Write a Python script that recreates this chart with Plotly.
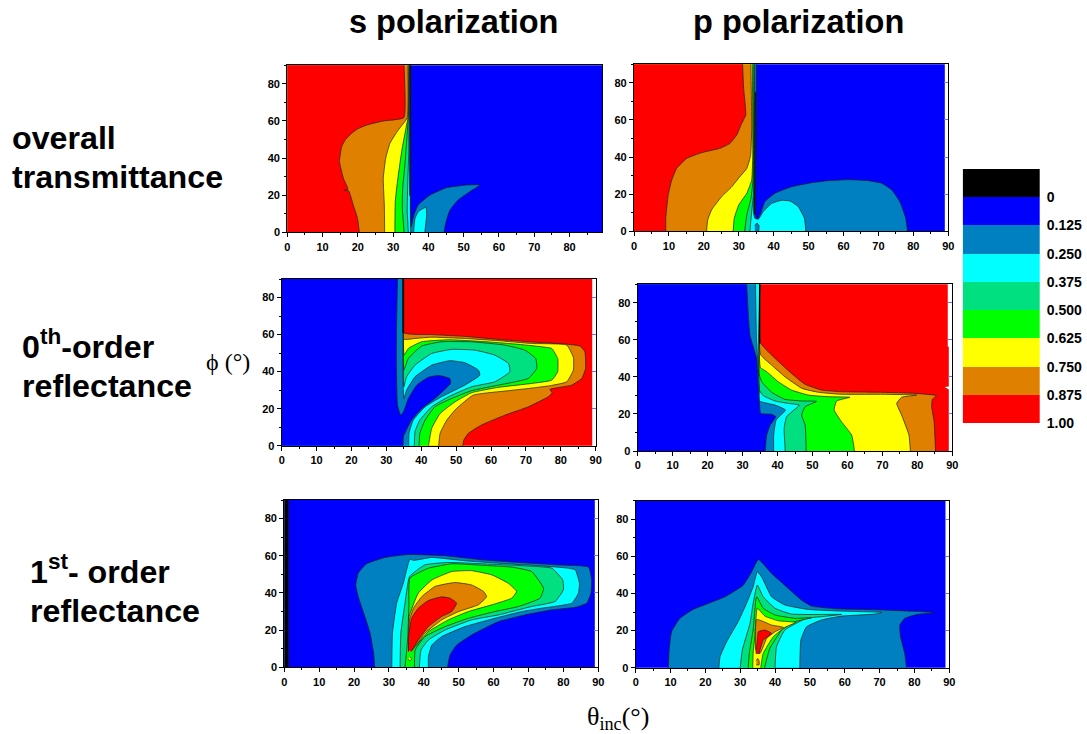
import plotly.graph_objects as go

W, H = 1087, 734

# ---------- colour bands ----------
BLACK, BLUE, TEAL, CYAN, SEA, GREEN, YELLOW, ORANGE, RED = (
    "#000000", "#0000FF", "#0080C0", "#00FFFF", "#00E080",
    "#00FF00", "#FFFF00", "#E08000", "#FF0000")
BAND_COLOURS = [BLACK, BLUE, TEAL, CYAN, SEA, GREEN, YELLOW, ORANGE, RED]
BAND_CENTRES = [-0.0625, 0.0625, 0.1875, 0.3125, 0.4375, 0.5625, 0.6875, 0.8125, 0.9375]
LEVEL_VALUES = [0, 0.125, 0.25, 0.375, 0.5, 0.625, 0.75, 0.875, 1.0]
LEVEL_LABELS = ["0", "0.125", "0.250", "0.375", "0.500", "0.625", "0.750", "0.875", "1.00"]

# ---------- traced iso-lines: overall transmittance, s ----------
TS_BASE_T = [-2, 89.2, 89.2, -2]
TS_BASE_P = [-2, -2, 92, 92]
TS_TEAL_T = [0, 44.4, 45, 46.1, 48.4, 51.7, 54.6, 50.8, 45.1, 40.4, 37.1, 35.9, 35.1, 34.9, 34.8, 34.9, 0]
TS_TEAL_P = [0, 0, 5.7, 12, 17.4, 21.9, 25.5, 25.5, 24, 20, 14.7, 9.3, 3, 20, 60, 90, 90]
TS_CYAN_T = [0, 35, 34.9, 34.7, 0, None, 35.8, 36.2, 37.1, 39.3, 39.5, 39]
TS_CYAN_P = [0, 0, 5, 90, 90, None, 0, 7.5, 11, 13.5, 9.3, 0]
TS_SEA_T = [0, 34.3, 34, 34.1, 34.4, 34.6, 0]
TS_SEA_P = [0, 0, 11, 23.7, 41.7, 90, 90]
TS_GREEN_T = [0, 33.1, 32.6, 32.7, 33.4, 34.2, 34.5, 0]
TS_GREEN_P = [0, 0, 13, 23.7, 38, 59.6, 90, 90]
TS_YELLOW_T = [0, 30.5, 30.6, 31.2, 32.4, 33.8, 34.2, 34.4, 0]
TS_YELLOW_P = [0, 0, 16.5, 27, 43.4, 57.8, 61.8, 90, 90]
TS_ORANGE_T = [0, 27.6, 27.5, 27.2, 27.9, 29.1, 31.4, 34, 34.2, 0]
TS_ORANGE_P = [0, 0, 14.7, 29, 40, 48, 55, 61.8, 90, 90]
TS_RED_T = [0, 20.4, 19.9, 18.7, 17.4, 16, 17.2, 15.9, 14.8, 15.4, 16.5, 18.2, 20, 22.5, 27.2, 33.05, 33.1, 0]
TS_RED_P = [0, 0, 7.5, 14.7, 22.3, 22.6, 23.2, 29.1, 38.1, 46.1, 50, 53.3, 55.8, 57.8, 60, 61.8, 90, 90]
TS_BLACK_T = [34.6, 34.9, 35, 34.7]
TS_BLACK_P = [20, 20, 90, 90]

# ---------- overall transmittance, p ----------
TP_BASE_T = [-2, 89, 89, -2]
TP_BASE_P = [-2, -2, 92, 92]
TP_TEAL_T = [0, 78.3, 77.8, 76.1, 73.8, 70.9, 67.1, 61.4, 55.6, 50.9, 45.1, 40.4, 37.5, 36.1, 35.1, 34.8, 34.9, 35.1, 0]
TP_TEAL_P = [0, 0, 7, 16, 22.3, 25.9, 27.3, 27.8, 27.3, 26.2, 24, 20.5, 16, 8.8, 5.7, 9, 40, 90, 90]
TP_CYAN_T = [0, 49.2, 48.8, 47, 44.7, 42.3, 39.4, 37, 35.6, 34.6, 34.2, 34.3, 34.6, 0]
TP_CYAN_P = [0, 0, 7, 13.3, 16.3, 16.7, 15, 10.6, 6.5, 7, 10.6, 23, 90, 90]
TP_ISLE_T = [34.6, 35.7, 35.8, 35.2, 34.6]
TP_ISLE_P = [0, 0, 3, 4.5, 3]
TP_SEA_T = [0, 33.2, 33.7, 34.2, 34.3, 34.4, 0]
TP_SEA_P = [0, 0, 10.6, 19.6, 34, 90, 90]
TP_GREEN_T = [0, 31.7, 32.3, 33.5, 34.1, 34.3, 0]
TP_GREEN_P = [0, 0, 8.8, 17.8, 28.5, 90, 90]
TP_YELLOW_T = [0, 28.4, 28.7, 30, 32.3, 33.7, 34, 33.9, 0]
TP_YELLOW_P = [0, 0, 7, 14.2, 20.5, 27.6, 41, 90, 90]
TP_ORANGE_T = [0, 20.8, 21.1, 22.2, 25.1, 28, 30.3, 32.3, 33.4, 33.7, 33.5, 0]
TP_ORANGE_P = [0, 0, 6.1, 11.5, 18.7, 24, 29.4, 33.9, 41, 55.5, 90, 90]
TP_RED_T = [0, 9.1, 9.1, 9.8, 10.8, 12.2, 15.1, 19.4, 24.6, 27.5, 29.4, 30.8, 32, 31.4, 31.1, 0]
TP_RED_P = [0, 0, 7, 19.6, 27.6, 33.9, 39.3, 42.4, 44.7, 47.4, 51.9, 58, 62.7, 77, 90, 90]
TP_BLACK_T = [34.4, 34.7, 34.9, 34.6]
TP_BLACK_P = [9, 9, 75, 75]

# ---------- 0th-order reflectance, s (painted from high band to low band) ----------
RS_BASE_T = [-2, 89, 89, -2]
RS_BASE_P = [-2, -2, 92, 92]
RS_ORANGE_T = [0, 51.9, 52.2, 53.5, 57.3, 64, 70.7, 76.4, 77.5, 76.9, 83.1, 86, 87.1, 86.9, 85.5, 81.2, 71.6, 62, 52.5, 43, 35, 34.9, 0]
RS_ORANGE_P = [0, 0, 3, 6.7, 11.2, 16.5, 21, 26.4, 28.6, 30.4, 32.7, 36.3, 41.7, 50.7, 53.8, 54.9, 56, 57.4, 59, 60, 61, 90, 90]
RS_YELLOW_T = [0, 45, 45.4, 47.3, 50.1, 54.9, 65, 70.7, 76.9, 81.7, 83.6, 83.6, 81.7, 71.6, 62, 52.5, 43, 38.2, 35, 34.9, 0]
RS_YELLOW_P = [0, 0, 6.7, 13.8, 20.1, 27.3, 29.7, 30.9, 32.4, 34.5, 40.8, 47.7, 54.3, 55.2, 56.7, 57.9, 58.6, 57.9, 57.5, 90, 90]
RS_GREEN_T = [0, 42.1, 43, 45.4, 49.7, 54.4, 62.1, 71.6, 77.4, 79.1, 79.1, 77.4, 74.5, 66.9, 57.3, 47.8, 40.1, 36.3, 35.1, 34.9, 0]
RS_GREEN_P = [0, 0, 9.4, 17.4, 23.7, 28.6, 31.5, 33.6, 35.4, 39.9, 47.1, 52.5, 53.4, 54.9, 56.3, 57.2, 56.1, 52.5, 49, 90, 90]
RS_SEA_T = [0, 39.4, 39.6, 41.1, 43.9, 48.7, 54.4, 62.1, 70.7, 73.1, 72.8, 69.7, 64, 54.4, 45.8, 40.1, 36.3, 35, 34.8, 34.9, 0]
RS_SEA_P = [0, 0, 6.7, 13.8, 21, 25.5, 29.7, 32.7, 36.3, 41.7, 47.1, 51.6, 54.3, 56.1, 56.1, 53.8, 47.1, 40.8, 60, 90, 90]
RS_CYAN_T = [0, 38, 38.2, 39.6, 43, 47.8, 54.4, 61.1, 65.4, 65, 61.1, 55.4, 48.7, 43, 38.2, 35.8, 35, 34.8, 34.8, 0]
RS_CYAN_P = [0, 0, 7.6, 13.8, 21, 26.4, 31.8, 34.5, 39.9, 44.4, 48.9, 51.6, 52, 49.8, 43.5, 37.2, 31.8, 60, 90, 90]
RS_TEAL_T = [0, 36.4, 36.5, 37.7, 41.1, 45.8, 52.5, 56.8, 56.4, 52.5, 48.2, 43, 38.2, 35.8, 35, 34.7, 34.7, 0]
RS_TEAL_P = [0, 0, 6.7, 13.8, 21, 26.4, 32.7, 38.1, 40.8, 44.8, 45.9, 43.5, 37.2, 30, 25.5, 60, 90, 90]
RS_BLUE_T = [0, 34.8, 34.9, 37.2, 40.1, 43.9, 48.4, 48.2, 44.9, 42, 38.7, 36.3, 34.9, 34.1, 33.2, 32.9, 32.9, 33.2, 0]
RS_BLUE_P = [0, 0, 4.9, 13.8, 20, 25.5, 33.6, 36.3, 37.9, 36.9, 32.7, 25.5, 18.3, 16.5, 21.9, 40.8, 61.5, 90, 90]
RS_BLACK_T = [34.6, 35, 35, 34.6]
RS_BLACK_P = [61, 61, 90, 90]

# ---------- 0th-order reflectance, p ----------
RP_BASE_T = [-2, 89, 89, 87.8, 89, 89, 88.7, 88.7, -2]
RP_BASE_P = [-2, -2, 33.2, 34.6, 34.8, 56, 56.5, 92, 92]
RP_ORANGE_T = [0, 85.2, 84.8, 84.1, 84.3, 85.5, 79.3, 69.8, 58.3, 52.6, 47.9, 44, 39.3, 35.1, 34.9, 0]
RP_ORANGE_P = [0, 0, 15.8, 23.9, 28, 29.9, 31.1, 31.7, 32, 32.9, 36, 41.9, 50, 58.5, 90, 90]
RP_YELLOW_T = [0, 78, 77.6, 75.5, 74.1, 75.5, 79.8, 69.8, 58.3, 51.7, 47, 42.1, 38.3, 35.1, 34.9, 0]
RP_YELLOW_P = [0, 0, 8.6, 19.4, 25.7, 29, 30.2, 30.6, 30.6, 31.7, 33.8, 40.1, 46.4, 52.2, 90, 90]
RP_GREEN_T = [0, 62, 61.2, 58.3, 56.2, 56.9, 60.7, 54.5, 48.8, 44, 40.2, 36.9, 35.1, 34.9, 0]
RP_GREEN_P = [0, 0, 8.6, 15.8, 22.1, 27, 29, 29.3, 30.2, 32.9, 37.4, 42.8, 45.1, 90, 90]
RP_SEA_T = [0, 48.2, 47.9, 46.9, 47.9, 51.2, 47, 42.1, 38.3, 35.5, 34.8, 34.9, 0]
RP_SEA_P = [0, 0, 14, 19.4, 23.9, 26.8, 27, 27.9, 31.7, 37.4, 41, 90, 90]
RP_CYAN_T = [0, 42.2, 41.9, 42.6, 46.2, 43.1, 39.3, 35.9, 34.8, 34.5, 34.9, 0]
RP_CYAN_P = [0, 0, 12.2, 18.5, 24.8, 25.7, 27, 29.9, 32.9, 53.6, 90, 90]
RP_TEAL_T = [0, 38.9, 38.9, 39.6, 42.3, 39.3, 34.8, 34.8, 34.6, 34, 33.7, 0]
RP_TEAL_P = [0, 0, 8.6, 16.7, 22.1, 24.8, 27, 33, 41, 59, 90, 90]
RP_BLUE_T = [0, 36.5, 36.9, 37.9, 39.5, 38.3, 35.2, 34.8, 34.5, 34, 32.1, 31.6, 31.2, 0]
RP_BLUE_P = [0, 0, 8.6, 14, 18.5, 19.8, 20.3, 27, 35, 50, 62.6, 75, 90, 90]
RP_BLACK_T = [34.7, 35, 35, 34.7]
RP_BLACK_P = [58, 58, 90, 90]

# ---------- 1st-order reflectance, s ----------
DS_BASE_T = [-2, 89, 89, -2]
DS_BASE_P = [-2, -2, 92, 92]
DS_TEAL_T = [25.9, 25.6, 24.6, 23.1, 21.2, 20.5, 21.2, 23.6, 28.9, 35.6, 46.1, 56.6, 67.1, 78.6, 87.2, 88.1, 87.9, 86.7, 83.4, 76.7, 69, 61.4, 53.7, 49.4, 47.5, 46.8]
DS_TEAL_P = [0, 7.5, 18.3, 27.3, 38, 44.3, 50.6, 55.7, 59.1, 60.7, 60, 57.8, 56.4, 55.1, 53.9, 47, 39.9, 34.5, 32.3, 30.9, 28.2, 24.6, 17.4, 12, 6.6, 0]
DS_CYAN_T = [30.8, 31, 32.2, 34.1, 36, 37, 42.3, 51.8, 61.4, 70.9, 80.5, 83.4, 84.6, 84.3, 82.4, 73.8, 68.1, 60.4, 51.8, 45.1, 42.3, 41.3, 41.3]
DS_CYAN_P = [0, 18.3, 34.5, 45.2, 58.2, 57.5, 59.1, 57.3, 56, 54.9, 53.5, 52.4, 45.2, 39.9, 34.5, 31.8, 30, 26.4, 21.9, 16.5, 12, 5.7, 0]
DS_SEA_T = [33.2, 33.4, 34.6, 35.9, 40.3, 47, 56.6, 69, 76.7, 79.8, 80, 77.6, 70.9, 61.4, 53.7, 46.1, 41.3, 39.2, 38.7]
DS_SEA_P = [0, 18.3, 34.5, 48.8, 55.1, 56.4, 55.7, 54.6, 53.3, 47, 41.7, 35.4, 32.7, 28.2, 25.5, 20.1, 14.7, 9.3, 0]
DS_GREEN_T = [34.6, 35.1, 35.4, 35.7, 36, 41.3, 48, 56.6, 65.2, 70.9, 74.3, 73.3, 67.1, 60.4, 52.8, 46.1, 40.3, 37.5, 37.3]
DS_GREEN_P = [0, 9.3, 16.5, 32.7, 48, 53.3, 55.7, 54.9, 53.9, 51.5, 42.5, 37.2, 32.7, 30, 26.4, 21.9, 16.5, 9.3, 0]
DS_YELLOW_T = [35.6, 35.7, 35.8, 38.4, 42.3, 48, 53.7, 59.5, 64.2, 66.6, 65.2, 59.5, 52.8, 47, 41.3, 37.5, 36.2, None, 35.5, 36, 36.5, 36]
DS_YELLOW_P = [8.4, 16.5, 27.3, 39.9, 47, 51.5, 52, 49.7, 45.2, 40.8, 37.2, 33.6, 30, 25.5, 19.2, 11.1, 8.4, None, 4.5, 3.5, 4.5, 5.5]
DS_ORANGE_T = [35.6, 35.7, 35.9, 37, 39.4, 43.2, 48.9, 53.7, 57.1, 58, 55.6, 50, 45.1, 40.3, 37.5, 36.3]
DS_ORANGE_P = [8.4, 18.3, 25.5, 31.8, 38, 43.5, 45.6, 44.3, 40.8, 38, 33.6, 30, 25.5, 18.3, 11.1, 8.4]
DS_RED_T = [35.6, 35.6, 36.5, 38.4, 41.3, 45.1, 47.5, 49.4, 48, 45.1, 41.3, 38.4, 36.5]
DS_RED_P = [9, 16.5, 26.4, 31.8, 35.9, 37.9, 37.2, 34.5, 30, 27.3, 21.9, 14.7, 8.8]
DS_BLACK_T = [0, 1.2, 1.2, 0]
DS_BLACK_P = [0, 0, 90, 90]

# ---------- 1st-order reflectance, p ----------
DP_BASE_T = [-2, 88.9, 88.9, -2]
DP_BASE_P = [-2, -2, 92, 92]
DP_TEAL_T = [9.4, 9.6, 10.3, 12.7, 16.5, 20.8, 25.6, 30.9, 33.3, 35.2, 39, 43.8, 47.6, 50.5, 57.2, 70.6, 85.7, 80.6, 77.2, 75.8, 76, 77.2, 77.7]
DP_TEAL_P = [0, 9.5, 19.4, 26.6, 31.4, 34.6, 38.2, 44.5, 51.7, 58.3, 50.8, 42.7, 36.4, 33.2, 31.8, 31.1, 29.8, 28.7, 26.6, 23, 16.7, 7.7, 0]
DP_CYAN_T = [23.9, 24.2, 26.1, 29.4, 31.8, 33.7, 34.9, 36.2, 39, 42.8, 49.5, 59.1, 70.6, 68.6, 59.1, 53.3, 49, 47.4, 47.1]
DP_CYAN_P = [0, 5.9, 14, 24.8, 34.6, 43.6, 51.7, 48.7, 38.2, 33.8, 31.4, 30.5, 29.8, 28.9, 27.8, 25.7, 22, 14.9, 0]
DP_SEA_T = [30, 30.6, 32.8, 33.7, 34.9, 36.6, 40, 44.7, 54.3, 59.1, 53.3, 49, 42.8, 40.4, 40]
DP_SEA_P = [0, 9.5, 23.9, 34.6, 44.5, 38.2, 32, 28.9, 28.7, 28.7, 27.5, 26.6, 20.3, 11.3, 0]
DP_GREEN_T = [32.3, 32.6, 33.7, 34.7, 36.6, 40, 45.7, 50.5, 45.7, 41.9, 38.5, 37]
DP_GREEN_P = [0, 7.7, 20.3, 38.2, 32, 28.4, 26.6, 26.9, 24.8, 20.3, 10.4, 0]
DP_YELLOW_T = [33.6, 33.7, 34.2, 34.9, 37.1, 40.9, 45.9, 42.8, 39.5, 36.6, 35.9]
DP_YELLOW_P = [0, 7.7, 16.7, 32, 27.8, 25.3, 24.4, 21.7, 16.7, 7.7, 0]
DP_ORANGE_T = [34.4, 34.7, 39, 42.4, 40, 37.6, 35.7, 34.6, None, 34.6, 35.4, 35.4, 35, 34.6]
DP_ORANGE_P = [9.5, 26, 23, 21.7, 19.4, 15.8, 7.7, 7.7, None, 1.5, 1.5, 3.8, 5, 3.8]
DP_RED_T = [34.5, 35, 35.2, 37.1, 39, 36.6, 35.4]
DP_RED_P = [7.7, 16.7, 19.4, 20.3, 18.5, 14.9, 7.7]

# ---------- text ----------
TICKS_X = [0, 10, 20, 30, 40, 50, 60, 70, 80, 90]
TICKS_Y = [0, 20, 40, 60, 80]

FIG_BG = "white"
SANS = "Liberation Sans, Arial, sans-serif"
SERIF = "Liberation Serif, Times New Roman, serif"
EDGE = "#1c1c1c"

PANELS = [
    dict(box=(287.3, 602.0, 65.3, 232.3), xmax=89.2, ticks=TICKS_X[:-1], side_ticks=False, layers=[
        (BLUE, TS_BASE_T, TS_BASE_P), (TEAL, TS_TEAL_T, TS_TEAL_P), (CYAN, TS_CYAN_T, TS_CYAN_P),
        (SEA, TS_SEA_T, TS_SEA_P), (GREEN, TS_GREEN_T, TS_GREEN_P), (YELLOW, TS_YELLOW_T, TS_YELLOW_P),
        (ORANGE, TS_ORANGE_T, TS_ORANGE_P), (RED, TS_RED_T, TS_RED_P), (BLACK, TS_BLACK_T, TS_BLACK_P)]),
    dict(box=(634.0, 948.3, 64.3, 231.3), xmax=90, ticks=TICKS_X, side_ticks=True, layers=[
        (BLUE, TP_BASE_T, TP_BASE_P), (TEAL, TP_TEAL_T, TP_TEAL_P), (CYAN, TP_CYAN_T, TP_CYAN_P),
        (TEAL, TP_ISLE_T, TP_ISLE_P), (SEA, TP_SEA_T, TP_SEA_P), (GREEN, TP_GREEN_T, TP_GREEN_P),
        (YELLOW, TP_YELLOW_T, TP_YELLOW_P), (ORANGE, TP_ORANGE_T, TP_ORANGE_P), (RED, TP_RED_T, TP_RED_P),
        (BLACK, TP_BLACK_T, TP_BLACK_P)]),
    dict(box=(281.7, 595.7, 279.0, 445.7), xmax=90, ticks=TICKS_X, side_ticks=True, layers=[
        (RED, RS_BASE_T, RS_BASE_P), (ORANGE, RS_ORANGE_T, RS_ORANGE_P), (YELLOW, RS_YELLOW_T, RS_YELLOW_P),
        (GREEN, RS_GREEN_T, RS_GREEN_P), (SEA, RS_SEA_T, RS_SEA_P), (CYAN, RS_CYAN_T, RS_CYAN_P),
        (TEAL, RS_TEAL_T, RS_TEAL_P), (BLUE, RS_BLUE_T, RS_BLUE_P), (BLACK, RS_BLACK_T, RS_BLACK_P)]),
    dict(box=(637.7, 952.3, 284.3, 451.0), xmax=90, ticks=TICKS_X, side_ticks=True, layers=[
        (RED, RP_BASE_T, RP_BASE_P), (ORANGE, RP_ORANGE_T, RP_ORANGE_P), (YELLOW, RP_YELLOW_T, RP_YELLOW_P),
        (GREEN, RP_GREEN_T, RP_GREEN_P), (SEA, RP_SEA_T, RP_SEA_P), (CYAN, RP_CYAN_T, RP_CYAN_P),
        (TEAL, RP_TEAL_T, RP_TEAL_P), (BLUE, RP_BLUE_T, RP_BLUE_P), (BLACK, RP_BLACK_T, RP_BLACK_P)]),
    dict(box=(284.3, 598.3, 500.0, 667.3), xmax=90, ticks=TICKS_X, side_ticks=True, layers=[
        (BLUE, DS_BASE_T, DS_BASE_P), (TEAL, DS_TEAL_T, DS_TEAL_P), (CYAN, DS_CYAN_T, DS_CYAN_P),
        (SEA, DS_SEA_T, DS_SEA_P), (GREEN, DS_GREEN_T, DS_GREEN_P), (YELLOW, DS_YELLOW_T, DS_YELLOW_P),
        (ORANGE, DS_ORANGE_T, DS_ORANGE_P), (RED, DS_RED_T, DS_RED_P), (BLACK, DS_BLACK_T, DS_BLACK_P)]),
    dict(box=(635.7, 949.3, 500.7, 667.7), xmax=90, ticks=TICKS_X, side_ticks=True, layers=[
        (BLUE, DP_BASE_T, DP_BASE_P), (TEAL, DP_TEAL_T, DP_TEAL_P), (CYAN, DP_CYAN_T, DP_CYAN_P),
        (SEA, DP_SEA_T, DP_SEA_P), (GREEN, DP_GREEN_T, DP_GREEN_P), (YELLOW, DP_YELLOW_T, DP_YELLOW_P),
        (ORANGE, DP_ORANGE_T, DP_ORANGE_P), (RED, DP_RED_T, DP_RED_P)]),
]


def past_frame(thetas, phis, pad=8):
    """Iso-lines that end on the frame run straight on past it, so the frame clips them cleanly."""
    out_t, out_p = [], []
    start = 0
    rings = []
    for k, v in enumerate(thetas + [None]):
        if v is None:
            rings.append(list(zip(thetas[start:k], phis[start:k])))
            start = k + 1
    for r, ring in enumerate(rings):
        if r:
            out_t.append(None)
            out_p.append(None)
        for k, (t, p) in enumerate(ring):
            if p not in (0, 90):
                out_t.append(t)
                out_p.append(p)
                continue
            near = -pad if p == 0 else 90 + pad
            far = -2 * pad if p == 0 else 90 + 2 * pad
            if t == 0:
                out_t.append(-pad)
                out_p.append(far)
            elif ring[k - 1][1] not in (0, 90):
                out_t += [t, t, t]
                out_p += [p, near, far]
            elif ring[(k + 1) % len(ring)][1] not in (0, 90):
                out_t += [t, t, t]
                out_p += [far, near, p]
            else:
                out_t.append(t)
                out_p.append(far)
    return out_t, out_p


fig = go.Figure()
layout = {}
for i, p in enumerate(PANELS, start=1):
    x0, x1, y0, y1 = p["box"]
    xa, ya = f"x{i}", f"y{i}"
    for n, (colour, th, ph) in enumerate(p["layers"]):
        plain = n == 0 or colour == BLACK
        xs, ys = (th, ph) if plain else past_frame(th, ph)
        fig.add_trace(go.Scatter(
            x=xs, y=ys, xaxis=xa, yaxis=ya, mode="lines", fill="toself", fillcolor=colour,
            line=dict(color=colour if n == 0 else EDGE, width=0 if n == 0 else 0.7, simplify=False,
                      shape="linear" if plain else "spline", smoothing=0.4),
            hoverinfo="skip", showlegend=False))
    tickfont = dict(family=SANS, size=11, color="black", weight=700)
    layout[f"xaxis{i}"] = dict(
        domain=[x0 / W, x1 / W], anchor=ya, range=[0, p["xmax"]], tickvals=p["ticks"], automargin=False,
        ticks="outside", ticklen=4, tickwidth=1, tickcolor="black", tickfont=tickfont,
        showline=True, linecolor="black", linewidth=1.2, mirror=True, showgrid=False, zeroline=False,
        minor=dict(dtick=5, ticks="outside", ticklen=2, tickcolor="black", showgrid=False))
    layout[f"yaxis{i}"] = dict(
        domain=[1 - y1 / H, 1 - y0 / H], anchor=xa, range=[0, 90], tickvals=TICKS_Y, automargin=False,
        ticks="outside", ticklen=4, tickwidth=1, tickcolor="black", tickfont=tickfont,
        showline=True, linecolor="black", linewidth=1.2, mirror=True, showgrid=False, zeroline=False,
        minor=dict(dtick=10, ticks="outside", ticklen=2, tickcolor="black", showgrid=False))
    if p["side_ticks"]:
        # faint blue tick marks on the inner side of the right frame
        fig.add_trace(go.Scatter(x=[None], y=[None], xaxis=xa, yaxis=f"y{i + 10}",
                                 hoverinfo="skip", showlegend=False))
        layout[f"yaxis{i + 10}"] = dict(
            domain=[1 - y1 / H, 1 - y0 / H], anchor=xa, overlaying=ya, side="right", range=[0, 90],
            tickvals=TICKS_Y[1:], ticks="inside", ticklen=4, tickwidth=1, tickcolor="#7070F0",
            showticklabels=False, showline=False, showgrid=False, zeroline=False, automargin=False)

# colour key
n = len(BAND_COLOURS)
scale = []
for k, c in enumerate(BAND_COLOURS):
    scale += [[k / n, c], [(k + 1) / n, c]]
fig.add_trace(go.Heatmap(
    z=[[k] for k in range(n)], x=[0], y=BAND_CENTRES, xaxis="x7", yaxis="y7",
    colorscale=scale, zmin=-0.5, zmax=n - 0.5, showscale=False, hoverinfo="skip"))
layout["xaxis7"] = dict(domain=[962.7 / W, 1040 / W], anchor="y7", visible=False, range=[-0.5, 0.5], automargin=False)
layout["yaxis7"] = dict(
    domain=[1 - 423.3 / H, 1 - 169 / H], anchor="x7", side="right", range=[1.0, -0.125], automargin=False,
    tickvals=LEVEL_VALUES, ticktext=LEVEL_LABELS, ticks="outside", ticklen=3, tickcolor="rgba(0,0,0,0)",
    showline=False, showgrid=False, zeroline=False,
    tickfont=dict(family=SANS, size=14, color="black", weight=700))


def label(text, px, py, size, family=SANS, bold=True, anchor="left"):
    return dict(text=text, x=px / W, y=1 - py / H, xref="paper", yref="paper", xanchor=anchor, yanchor="middle",
                showarrow=False, font=dict(family=family, size=size, color="black", weight=700 if bold else 400))


layout["annotations"] = [
    label("s polarization", 453, 22, 32.5, anchor="center"),
    label("p polarization", 798, 22, 32.5, anchor="center"),
    label("overall", 10, 138, 32.2),
    label("transmittance", 10, 177, 32.2),
    label("0<sup>th</sup>-order", 20, 344, 32.2),
    label("reflectance", 20, 386, 32.2),
    label("1<sup>st</sup>- order", 28, 569, 32.2),
    label("reflectance", 28, 611, 32.2),
    label("ϕ (°)", 228, 362, 24, family=SERIF, bold=False, anchor="center"),
    label("θ<sub>inc</sub>(°)", 618, 718, 26, family=SERIF, bold=False, anchor="center"),
]

fig.update_layout(width=W, height=H, margin=dict(l=0, r=0, t=0, b=0), autosize=False,
                  paper_bgcolor=FIG_BG, plot_bgcolor=FIG_BG, **layout)
fig.write_html("out.html", post_script="document.body.style.margin='0';", config={"displayModeBar": False})
